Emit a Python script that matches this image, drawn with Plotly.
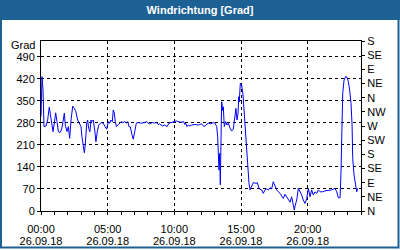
import pandas as pd
import plotly.graph_objects as go

# ---- data ----
hours = [0.0, 0.075, 0.15, 0.225, 0.375, 0.50, 0.62, 0.73, 0.83, 0.90, 1.0, 1.10, 1.20, 1.30, 1.43, 1.55,
         1.67, 1.75, 1.82, 1.95, 2.05, 2.15, 2.25, 2.38, 2.50, 2.62, 2.75, 2.87, 3.0, 3.07, 3.17, 3.25,
         3.32, 3.43, 3.50, 3.57, 3.67, 3.75, 3.82, 3.92, 4.03, 4.12, 4.22, 4.33, 4.50, 4.67, 4.80, 4.93,
         5.05, 5.15, 5.25, 5.35, 5.42, 5.50, 5.57, 5.65, 5.77, 5.90, 6.02, 6.15, 6.28, 6.40, 6.52, 6.60,
         6.70, 6.83, 6.92, 7.03, 7.15, 7.28, 7.52, 7.78, 7.90, 8.03, 8.15, 8.35, 8.53, 8.65, 8.78, 8.90,
         9.10, 9.28, 9.45, 9.60, 9.77, 9.95, 10.15, 10.35, 10.52, 10.70, 10.78, 10.85, 10.95, 11.05, 11.18, 11.30,
         11.55, 11.80, 12.05, 12.22, 12.38, 12.55, 12.75, 12.92, 13.05, 13.18, 13.25, 13.35, 13.40, 13.45, 13.50, 13.55,
         13.63, 13.67, 13.75, 13.85, 13.95, 14.05, 14.18, 14.30, 14.42, 14.55, 14.62, 14.70, 14.78, 14.83, 14.87, 14.95,
         15.05, 15.15, 15.22, 15.30, 15.38, 15.47, 15.55, 15.60, 15.68, 15.80, 15.92, 16.12, 16.22, 16.37, 16.55, 16.67,
         16.80, 16.93, 17.05, 17.18, 17.30, 17.42, 17.55, 17.68, 17.80, 17.93, 18.05, 18.17, 18.30, 18.43, 18.55, 18.68,
         18.80, 18.92, 19.0, 19.07, 19.18, 19.30, 19.43, 19.55, 19.67, 19.80, 19.93, 20.05, 20.18, 20.30, 20.42, 20.55,
         20.68, 20.80, 20.93, 21.13, 21.30, 21.55, 21.80, 22.05, 22.18, 22.30, 22.43, 22.50, 22.55, 22.63, 22.73, 22.85,
         22.95, 23.05, 23.15, 23.25, 23.33, 23.38, 23.48, 23.58, 23.68, 23.75]
direction = [300, 427, 385, 268, 270, 289, 330, 300, 280, 252, 280, 312, 284, 252, 249, 260,
             289, 311, 273, 252, 268, 231, 289, 333, 326, 315, 289, 280, 268, 236, 210, 185,
             210, 280, 289, 263, 252, 289, 284, 289, 257, 220, 252, 273, 281, 279, 268, 260,
             284, 279, 289, 284, 321, 311, 284, 268, 273, 279, 284, 281, 284, 279, 284, 268,
             267, 241, 228, 252, 279, 281, 279, 281, 284, 279, 277, 281, 279, 282, 275, 277,
             270, 273, 268, 279, 281, 284, 286, 283, 282, 284, 275, 279, 268, 273, 270, 273,
             275, 273, 277, 268, 275, 279, 277, 281, 279, 268, 236, 130, 183, 83, 225, 347,
             319, 331, 268, 284, 273, 279, 263, 254, 260, 310, 326, 289, 310, 363, 347, 406,
             400, 369, 326, 257, 199, 141, 104, 88, 67, 77, 90, 88, 90, 70, 67, 56,
             67, 70, 67, 74, 70, 93, 77, 67, 61, 56, 48, 40, 53, 45, 35, 28,
             45, 19, 3, 19, 35, 72, 61, 51, 35, 24, 40, 72, 45, 67, 51, 61,
             56, 67, 61, 61, 64, 65, 67, 72, 61, 42, 42, 125, 273, 374, 416, 427,
             425, 411, 384, 342, 273, 167, 114, 93, 61, 72]

day = "2018-09-26"
compass_vals = [0, 45, 90, 135, 180, 225, 270, 315, 360, 405, 450, 495, 540]
compass_text = ["N", "NE", "E", "SE", "S", "SW", "W", "NW", "N", "NE", "E", "SE", "S"]
title_text = "Windrichtung [Grad]"
unit_text = "Grad"

times = pd.Timestamp(day) + pd.to_timedelta(hours, unit="h")
t0 = pd.Timestamp(day)
t1 = t0 + pd.Timedelta(hours=24)

BLUE = "#1d6194"
FONT = "Liberation Sans"

# plot area in pixels: x 41..361, y 41..211
L, R, T, B = 41, 39, 41, 39
PW, PH = 400 - L - R, 250 - T - B


def px(x):
    return (x - L) / PW


def py(y):
    return (250 - B - y) / PH


fig = go.Figure()
fig.add_trace(go.Scatter(x=times, y=direction, mode="lines",
                         line=dict(color="#0000ff", width=1), showlegend=False,
                         hoverinfo="skip"))
fig.add_trace(go.Scatter(x=[], y=[], xaxis="x2", yaxis="y2", showlegend=False))

fig.update_layout(
    width=400, height=250,
    margin=dict(l=L, r=R, t=T, b=B, autoexpand=False),
    paper_bgcolor="white", plot_bgcolor="white",
    font=dict(family=FONT, size=11, color="black"),
    title=dict(text="<b>%s</b>" % title_text, x=0.5, xanchor="center",
               y=1 - 10 / 250, yanchor="middle",
               font=dict(family=FONT, size=11, color="white")),
    xaxis=dict(range=[t0, t1], type="date", tickmode="linear", tick0=t0,
               dtick=5 * 3600000, tickformat="%H:%M", automargin=False,
               ticks="outside", ticklen=3, tickcolor="black",
               showgrid=True, gridcolor="black", gridwidth=1, griddash="3px,3px",
               showline=True, linecolor="black", linewidth=1, mirror=True,
               minor=dict(tickmode="linear", tick0=t0, dtick=3600000,
                          ticks="outside", ticklen=3, tickcolor="black", showgrid=False),
               zeroline=False, ticklabelstandoff=5, tickfont=dict(size=11)),
    xaxis2=dict(range=[t0, t1], type="date", overlaying="x", side="bottom",
                tickmode="linear", tick0=t0, dtick=5 * 3600000, tickformat="%d.%m.%y",
                ticks="", showgrid=False, showline=False, zeroline=False, automargin=False,
                ticklabelstandoff=22, tickfont=dict(size=11)),
    yaxis=dict(range=[0, 540], tickmode="linear", tick0=0, dtick=70, automargin=False,
               ticks="outside", ticklen=3, tickcolor="black",
               showgrid=True, gridcolor="black", gridwidth=1, griddash="3px,3px",
               showline=True, linecolor="black", linewidth=1, mirror=True,
               zeroline=False, tickfont=dict(size=11)),
    yaxis2=dict(range=[0, 540], overlaying="y", side="right", anchor="x", automargin=False,
                tickmode="array", tickvals=compass_vals, ticktext=compass_text,
                ticks="outside", ticklen=3, tickcolor="black",
                showgrid=False, zeroline=False, showline=False,
                tickfont=dict(size=11)),
    shapes=[
        dict(type="rect", xref="paper", yref="paper", layer="below",
             x0=px(0), x1=px(400), y0=py(20), y1=py(0),
             fillcolor=BLUE, line=dict(width=0)),
        dict(type="rect", xref="paper", yref="paper", layer="below",
             x0=px(1), x1=px(398.5), y0=py(247.5), y1=py(0.5),
             fillcolor="rgba(0,0,0,0)", line=dict(color=BLUE, width=2)),
    ],
    annotations=[
        dict(text=unit_text, xref="paper", yref="paper", x=px(37), y=py(45),
             xanchor="right", yanchor="middle", showarrow=False,
             font=dict(family=FONT, size=11, color="black")),
    ],
)

fig.write_html("out.html")
